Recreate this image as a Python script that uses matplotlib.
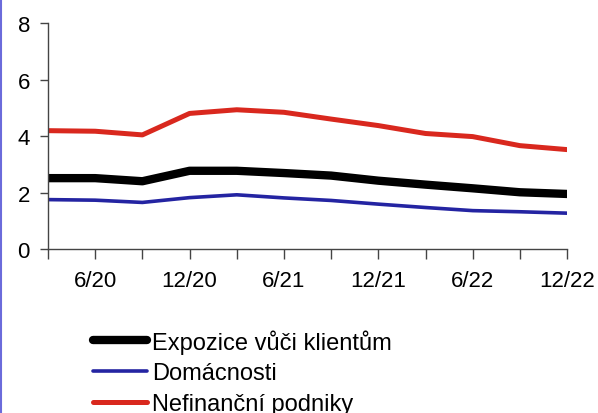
import matplotlib
matplotlib.use("Agg")
import matplotlib.pyplot as plt
from matplotlib.lines import Line2D

plt.rcParams['font.family'] = ['Liberation Sans', 'DejaVu Sans']

# quarterly, 3/20 .. 12/22
quarters = ['3/20', '6/20', '9/20', '12/20', '3/21', '6/21',
            '9/21', '12/21', '3/22', '6/22', '9/22', '12/22']
expozice = [2.51, 2.51, 2.40, 2.77, 2.77, 2.69, 2.60, 2.42, 2.28, 2.15, 2.01, 1.95]
domacnosti = [1.75, 1.73, 1.65, 1.82, 1.92, 1.81, 1.72, 1.59, 1.47, 1.36, 1.32, 1.27]
nefinancni = [4.19, 4.17, 4.04, 4.80, 4.93, 4.84, 4.60, 4.37, 4.09, 3.98, 3.66, 3.52]
labels = ['Expozice vůči klientům', 'Domácnosti', 'Nefinanční podniky']

fig = plt.figure(figsize=(5.98, 4.14), dpi=100)
ax = fig.add_axes([0.0803, 0.396, 0.868, 0.546])

x = list(range(len(quarters)))
ax.plot(x, expozice, color='black', lw=6, solid_capstyle='round', label=labels[0])
ax.plot(x, domacnosti, color='#2424a2', lw=2.6, solid_capstyle='round', label=labels[1])
ax.plot(x, nefinancni, color='#d9281e', lw=3.6, solid_capstyle='round', label=labels[2])

ax.set_xlim(0, len(quarters) - 1)
ax.set_ylim(0, 8)
ax.set_yticks([0, 2, 4, 6, 8])
ax.set_xticks(x)
ax.set_xticklabels([q if i % 2 == 1 else '' for i, q in enumerate(quarters)])

for s in ['top', 'right']:
    ax.spines[s].set_visible(False)
for s in ['left', 'bottom']:
    ax.spines[s].set_color('#444444')
    ax.spines[s].set_linewidth(1.0)
ax.tick_params(axis='y', direction='out', length=6, width=1, color='#444444',
               labelsize=16, pad=7)
ax.tick_params(axis='x', direction='out', length=7, width=1, color='#444444',
               labelsize=16, pad=8)

fig.legend(loc='upper left', bbox_to_anchor=(0.155, 0.203), frameon=False,
           fontsize=17, handlelength=2.3, handletextpad=0.2, labelspacing=0.37,
           borderpad=0, borderaxespad=0)

# clipped unit label at the top edge
fig.text(0.10, 1.02, '(%)', fontsize=16, ha='left', va='baseline')

# thin border on the left edge
fig.add_artist(Line2D([0.002, 0.002], [0, 1], transform=fig.transFigure,
                      color='#6b6bdb', lw=1.5))

fig.savefig('out.png', dpi=100)
